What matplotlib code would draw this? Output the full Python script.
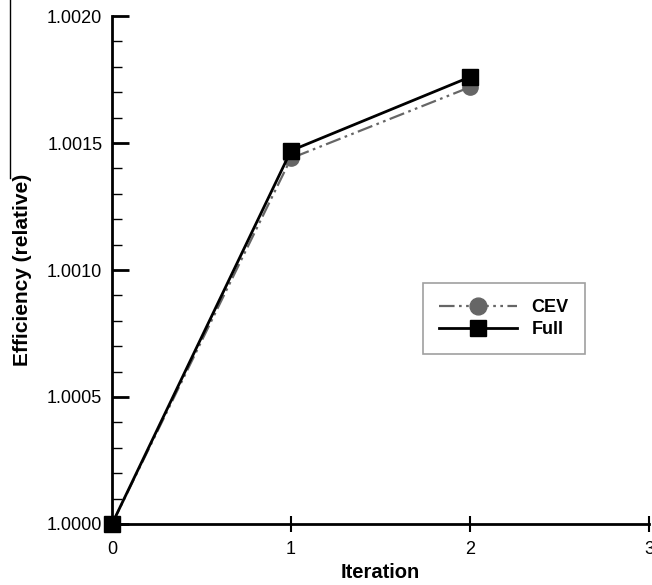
import matplotlib
matplotlib.use("Agg")
import matplotlib.pyplot as plt
from matplotlib.ticker import MultipleLocator, FormatStrFormatter
from matplotlib.lines import Line2D

plt.rcParams['font.family'] = ['Liberation Sans', 'DejaVu Sans']

# data
iteration = [0, 1, 2]
cev = [1.0000, 1.00144, 1.00172]
full = [1.0000, 1.00147, 1.00176]

fig = plt.figure(figsize=(6.52, 5.85), dpi=100)
ax = fig.add_axes([0.1718, 0.1043, 0.8236, 0.8683])

ax.plot(iteration, cev, color='#666666', lw=1.6, ls=(0, (7, 2, 1.2, 2, 1.2, 2)),
        marker='o', ms=11, mfc='#666666', mec='#666666', clip_on=False, zorder=3, label='CEV')
ax.plot(iteration, full, color='black', lw=2, ls='-',
        marker='s', ms=11, mfc='black', mec='black', clip_on=False, zorder=4, label='Full')

ax.set_xlim(0, 3)
ax.set_ylim(1.0000, 1.0020)
ax.xaxis.set_major_locator(MultipleLocator(1))
ax.yaxis.set_major_locator(MultipleLocator(0.0005))
ax.yaxis.set_minor_locator(MultipleLocator(0.0001))
ax.yaxis.set_major_formatter(FormatStrFormatter('%.4f'))

for s in ['top', 'right']:
    ax.spines[s].set_visible(False)
for s in ['left', 'bottom']:
    ax.spines[s].set_linewidth(2)

ax.tick_params(axis='y', which='major', direction='in', length=12, width=2, labelsize=13, pad=7)
ax.tick_params(axis='y', which='minor', direction='in', length=7, width=1)
ax.tick_params(axis='x', which='major', direction='inout', length=12, width=1.5, labelsize=13, pad=6)

ax.set_xlabel('Iteration', fontsize=14.5, fontweight='bold', labelpad=4)
ax.set_ylabel('Efficiency (relative)', fontsize=15, fontweight='bold', labelpad=11)

leg = ax.legend(loc='upper left', bbox_to_anchor=(0.579, 0.474), frameon=True, fancybox=False,
                edgecolor='#888888', handlelength=4.3, borderpad=0.9, labelspacing=0.25,
                handletextpad=0.8, borderaxespad=0, markerscale=1.1,
                prop={'weight': 'bold', 'size': 13})
leg.get_frame().set_linewidth(1.2)

# thin vertical stroke along the left border of the scan
fig.add_artist(Line2D([10 / 652, 10 / 652], [1.0, 1 - 178 / 585], color='black', lw=1,
                      transform=fig.transFigure))

fig.savefig('out.png', dpi=100)
